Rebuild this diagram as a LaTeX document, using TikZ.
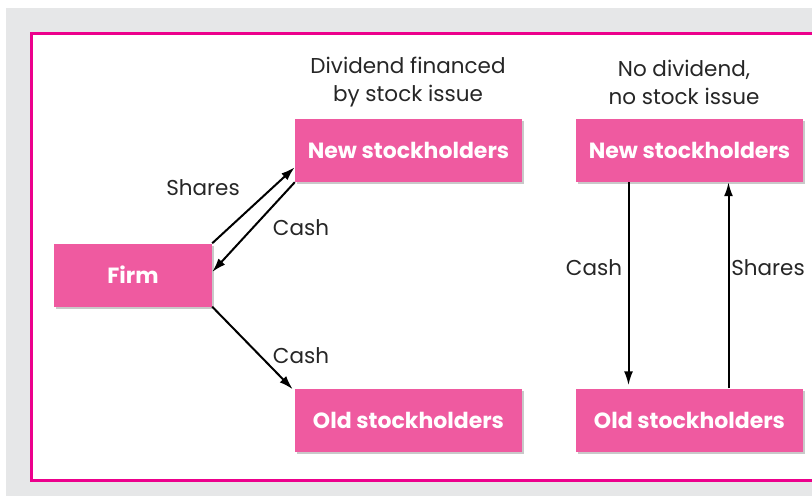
\documentclass[tikz,border=0pt]{standalone}
\usepackage{fontspec}
\setmainfont{Poppins}
\usetikzlibrary{positioning, arrows.meta, shadows}
\definecolor{boxPink}{RGB}{239, 90, 160}
\definecolor{framePink}{RGB}{236, 0, 140}
\definecolor{bgGray}{RGB}{230, 231, 232}

\begin{document}
\begin{tikzpicture}[x=1pt, y=-1pt,
  box/.style={fill=boxPink, text=white, font=\fontsize{22}{24}\selectfont\bfseries,
    minimum height=63pt, inner sep=0pt,
    drop shadow={shadow xshift=2pt, shadow yshift=-2pt, opacity=0.35, fill=black!60}},
  lbl/.style={font=\fontsize{21.5}{28}\selectfont, text=black!85, align=center, inner sep=0pt},
  flow/.style={-{Latex[length=14pt, width=9pt]}, line width=2pt}]
  \useasboundingbox (0,0) rectangle (812,496);
  \clip (0,0) rectangle (812,496);
  % background and frame
  \fill[bgGray] (6,8) rectangle (812,496);
  \draw[framePink, line width=3pt, fill=white] (31.5,33.5) rectangle (830,480.5);

  % boxes
  \node[box, minimum width=158pt] (firm) at (133,275) {Firm};
  \node[box, minimum width=227pt] (newL) at (408.5,150.5) {New stockholders};
  \node[box, minimum width=227pt] (oldL) at (408.5,420) {Old stockholders};
  \node[box, minimum width=227pt] (newR) at (689.5,150.5) {New stockholders};
  \node[box, minimum width=227pt] (oldR) at (689.5,420) {Old stockholders};

  % titles
  \node[lbl] (titleL) at (408,82) {Dividend financed\\by stock issue};
  \node[lbl] (titleR) at (684,82) {No dividend,\\no stock issue};

  % left case
  \draw[flow] (firm.north east) -- ([yshift=15pt]newL.south west);
  \draw[flow] (newL.south west) -- ([yshift=3pt]firm.east);
  \draw[flow] (firm.south east) -- ([xshift=-2pt,yshift=-1pt]oldL.north west);
  \node[lbl] (sharesL) at (203,188) {Shares};
  \node[lbl] (cashL) at (301,228) {Cash};
  \node[lbl] (cashD) at (301,356) {Cash};

  % right case
  \draw[flow] ([xshift=-61pt]newR.south) -- ([xshift=-61pt,yshift=3pt]oldR.north);
  \draw[flow] ([xshift=39pt]oldR.north) -- ([xshift=39pt]newR.south);
  \node[lbl] (cashR) at (594,268) {Cash};
  \node[lbl] (sharesR) at (768,268) {Shares};
\end{tikzpicture}
\end{document}
